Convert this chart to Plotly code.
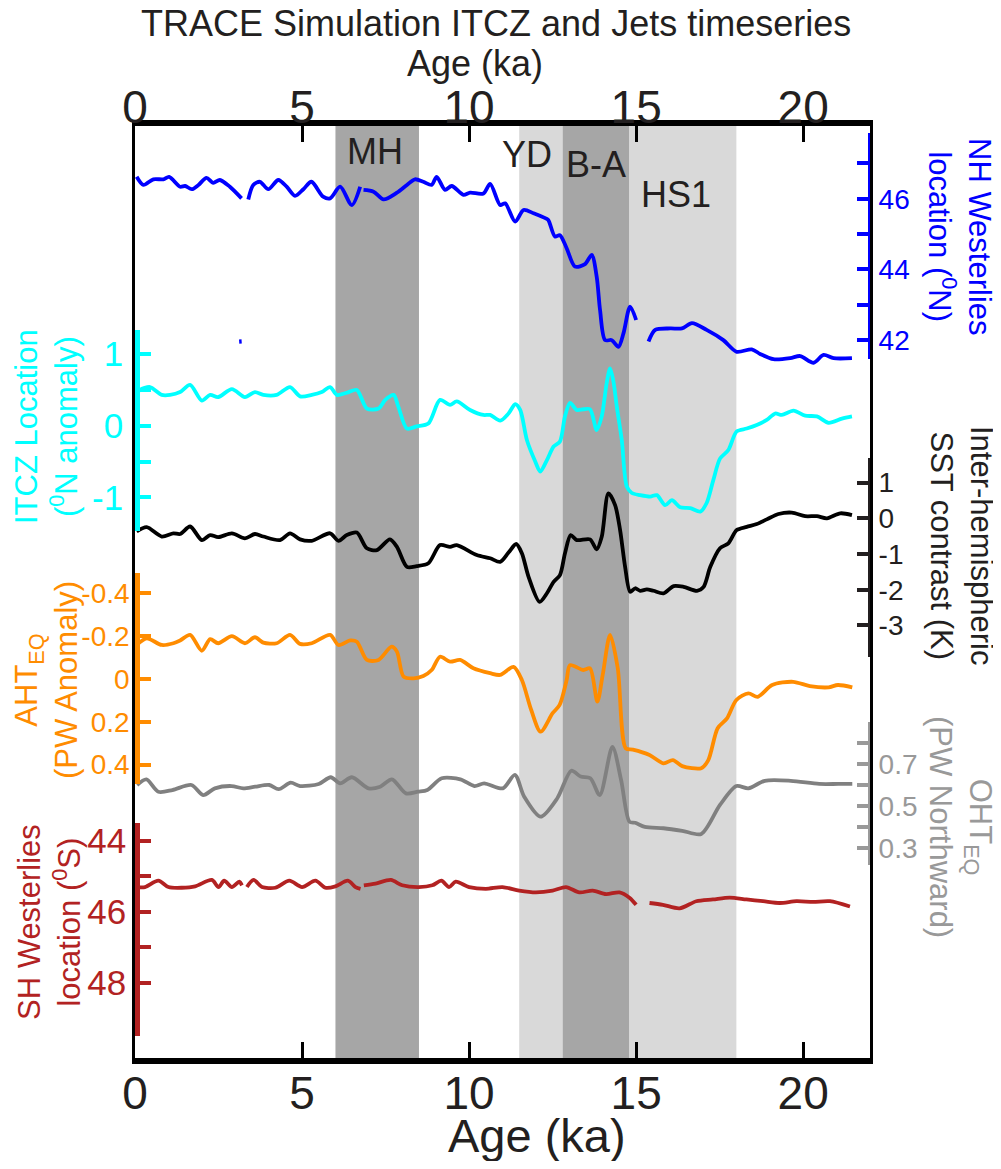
import plotly.graph_objects as go

# ---------------- data ----------------
age_ticks = [0, 5, 10, 15, 20]
period_names = ["MH", "YD", "B-A", "HS1"]
period_start = [6.0, 11.5, 12.8, 14.8]
period_end = [8.5, 12.8, 14.8, 18.0]
period_tone = ["dark", "light", "dark", "light"]

# NH westerlies location (deg N); None = gap in record
nh_age = [0.05, 0.25, 0.55, 0.85, 1.02, 1.35, 1.5, 1.7, 1.9, 2.14, 2.34, 2.54, 2.84, 3.19, None,
          3.39, 3.54, 3.74, 3.99, 4.29, 4.54, 4.79, 5.04, 5.28, 5.63, 5.84, 6.14, 6.49, 6.74, None,
          6.84, 7.14, 7.44, 7.84, 8.14, 8.38, 8.63, 8.88, 9.03, 9.28, 9.48, 9.83, 10.03, 10.43, 10.63,
          10.93, 11.08, 11.38, 11.63, 11.93, 12.28, 12.37, 12.57, 12.72, 12.92, 13.17, 13.47, 13.67,
          13.82, 13.92, 14.07, 14.27, 14.47, 14.62, 14.82, 15.0, None,
          15.37, 15.57, 16.02, 16.37, 16.67, 17.11, 17.61, 18.01, 18.46, 18.71, 19.11, 19.61, 19.91,
          20.31, 20.61, 20.91, 21.46]
nh_lat = [46.62, 46.39, 46.55, 46.55, 46.62, 46.34, 46.36, 46.27, 46.39, 46.59, 46.45, 46.53, 46.34, 46.01, None,
          45.98, 46.39, 46.48, 46.27, 46.53, 46.34, 46.08, 46.27, 46.48, 46.06, 46.01, 46.34, 45.82, 46.34, None,
          46.25, 46.20, 45.98, 46.17, 46.39, 46.55, 46.48, 46.39, 46.62, 46.25, 46.36, 46.11, 46.17, 46.15, 46.42,
          45.82, 45.87, 45.35, 45.68, 45.59, 45.45, 45.40, 44.93, 44.97, 44.60, 44.08, 44.15, 44.41,
          43.79, 42.85, 42.00, 42.00, 41.81, 42.19, 42.95, 42.57, None,
          41.96, 42.29, 42.33, 42.33, 42.48, 42.29, 42.00, 41.67, 41.74, 41.61, 41.46, 41.49, 41.55,
          41.36, 41.58, 41.49, 41.49]
nh_stray_age = [3.15, 3.16]
nh_stray_lat = [42.02, 41.9]

# ITCZ location (deg N anomaly)
itcz_age = [0.05, 0.15, 0.45, 0.8, 1.05, 1.35, 1.65, 2.0, 2.25, 2.49, 2.9, 3.29, 3.59, 3.84, 4.24, 4.64,
            4.94, 5.29, 5.59, 5.84, 6.04, 6.34, 6.64, 6.94, 7.29, 7.49, 7.74, 7.88, 8.14, 8.43, 8.78,
            9.13, 9.43, 9.63, 10.03, 10.43, 10.63, 10.93, 11.18, 11.38, 11.53, 11.73, 11.98, 12.13,
            12.33, 12.53, 12.72, 12.87, 13.02, 13.22, 13.42, 13.62, 13.82, 13.97, 14.12, 14.22, 14.32,
            14.42, 14.57, 14.72, 14.87, 15.12, 15.42, 15.62, 15.87, 16.07, 16.32, 16.62, 16.92, 17.11,
            17.31, 17.51, 17.76, 18.01, 18.31, 18.61, 18.91, 19.16, 19.36, 19.71, 20.06, 20.41, 20.76,
            21.16, 21.46]
itcz_lat = [0.45, 0.50, 0.54, 0.43, 0.43, 0.47, 0.57, 0.35, 0.43, 0.40, 0.51, 0.40, 0.47, 0.43, 0.43, 0.54,
            0.41, 0.43, 0.47, 0.54, 0.43, 0.46, 0.50, 0.24, 0.24, 0.36, 0.43, 0.27, -0.04, -0.01, 0.03,
            0.36, 0.29, 0.34, 0.22, 0.15, 0.15, 0.07, 0.17, 0.30, 0.22, -0.20, -0.50, -0.64,
            -0.48, -0.29, -0.22, 0.13, 0.32, 0.22, 0.23, 0.23, -0.06, 0.13, 0.60, 0.80, 0.62,
            0.27, -0.20, -0.85, -0.94, -0.97, -0.99, -0.97, -1.11, -1.04, -1.14, -1.15, -1.20, -1.08,
            -0.76, -0.46, -0.34, -0.08, -0.04, 0.01, 0.08, 0.17, 0.15, 0.21, 0.14, 0.13, 0.04,
            0.10, 0.13]

# Inter-hemispheric SST contrast (K)
sst_age = [0.05, 0.35, 0.8, 1.15, 1.35, 1.65, 2.0, 2.25, 2.49, 2.9, 3.29, 3.59, 3.84, 4.34, 4.64, 4.94,
           5.29, 5.84, 6.09, 6.34, 6.64, 6.94, 7.24, 7.63, 7.84, 8.14, 8.43, 8.78, 9.13, 9.43, 9.63,
           10.23, 10.63, 10.93, 11.18, 11.41, 11.58, 11.78, 12.11, 12.33, 12.53, 12.72, 12.87, 13.04,
           13.22, 13.62, 13.82, 13.97, 14.17, 14.37, 14.52, 14.67, 14.82, 14.97, 15.12, 15.32, 15.52,
           15.82, 16.12, 16.42, 16.82, 17.02, 17.22, 17.51, 17.76, 18.01, 18.31, 18.61, 18.91, 19.26,
           19.66, 20.06, 20.41, 20.71, 21.11, 21.46]
sst_k = [-0.37, -0.25, -0.51, -0.42, -0.44, -0.23, -0.61, -0.47, -0.53, -0.42, -0.56, -0.44, -0.51, -0.61, -0.42, -0.59,
         -0.63, -0.42, -0.63, -0.47, -0.40, -0.84, -0.89, -0.59, -0.80, -1.36, -1.34, -1.26, -0.75, -0.80, -0.75,
         -1.03, -1.12, -1.22, -0.96, -0.72, -0.98, -1.64, -2.34, -2.10, -1.78, -1.59, -0.98, -0.47,
         -0.61, -0.59, -0.87, -0.52, 0.70, 0.37, -0.33, -1.36, -2.06, -1.96, -2.03, -1.99, -2.03,
         -2.10, -1.90, -1.92, -2.03, -1.92, -1.36, -0.84, -0.70, -0.33, -0.24, -0.16, -0.03, 0.12,
         0.16, 0.06, 0.06, 0.00, 0.14, 0.09]

# Equatorial atmospheric heat transport (PW anomaly)
aht_age = [0.05, 0.35, 0.8, 1.15, 1.35, 1.65, 2.0, 2.25, 2.49, 2.9, 3.29, 3.59, 3.84, 4.24, 4.64, 4.94,
           5.29, 5.84, 6.09, 6.44, 6.64, 6.94, 7.29, 7.68, 7.84, 8.04, 8.34, 8.63, 8.88, 9.13, 9.43,
           9.73, 10.13, 10.63, 10.93, 11.33, 11.58, 11.86, 12.14, 12.5, 12.71, 12.92, 13.02, 13.42,
           13.62, 13.84, 14.0, 14.22, 14.45, 14.69, 14.9, 15.4, 15.82, 16.1, 16.38, 16.95, 17.16,
           17.44, 17.72, 18.0, 18.36, 18.64, 19.07, 19.7, 20.2, 20.76, 21.04, 21.47]
aht_pw = [-0.159, -0.19, -0.159, -0.167, -0.18, -0.206, -0.132, -0.186, -0.167, -0.20, -0.167, -0.195, -0.17, -0.167, -0.206, -0.164,
          -0.167, -0.206, -0.159, -0.18, -0.174, -0.089, -0.089, -0.151, -0.128, -0.011, -0.003, -0.014, -0.042, -0.104, -0.081,
          -0.089, -0.05, -0.027, -0.019, -0.057, 0.005, 0.145, 0.246, 0.16, 0.121, 0.005, -0.065, -0.042,
          -0.05, 0.106, -0.02, -0.206, -0.05, 0.324, 0.33, 0.355, 0.394, 0.379, 0.407, 0.417, 0.379,
          0.23, 0.184, 0.098, 0.067, 0.083, 0.028, 0.013, 0.033, 0.039, 0.028, 0.039]

# Equatorial ocean heat transport (PW northward)
oht_age = [0.06, 0.34, 0.7, 1.12, 1.69, 2.04, 2.39, 2.89, 3.24, 3.6, 4.02, 4.3, 4.66, 4.94, 5.5, 5.86,
           6.14, 6.49, 6.99, 7.34, 7.69, 8.11, 8.47, 8.75, 9.18, 9.74, 10.16, 10.45, 11.01, 11.37,
           11.65, 12.14, 12.64, 13.06, 13.34, 13.63, 13.91, 14.29, 14.55, 14.8, 14.97, 15.26, 15.82,
           16.38, 16.95, 17.51, 18.0, 18.36, 18.85, 19.63, 20.48, 21.05, 21.47]
oht_pw = [0.60, 0.627, 0.568, 0.576, 0.60, 0.552, 0.584, 0.595, 0.584, 0.592, 0.60, 0.58, 0.611, 0.595, 0.605, 0.637,
          0.608, 0.637, 0.584, 0.592, 0.627, 0.56, 0.568, 0.576, 0.632, 0.627, 0.595, 0.608, 0.584, 0.648,
          0.544, 0.449, 0.537, 0.668, 0.64, 0.632, 0.552, 0.782, 0.624, 0.425, 0.42, 0.401, 0.394,
          0.382, 0.367, 0.505, 0.595, 0.584, 0.62, 0.62, 0.605, 0.605, 0.605]

# SH westerlies location (deg S)
sh_age = [0.05, 0.3, 0.7, 1.0, 1.4, 1.8, 2.3, 2.5, 2.67, 2.9, 3.12, 3.2, None,
          3.35, 3.55, 3.8, 4.2, 4.62, 5.0, 5.4, 5.7, 6.0, 6.37, 6.6, 6.75, None,
          6.85, 7.2, 7.66, 8.0, 8.5, 8.9, 9.17, 9.4, 9.6, 10.0, 10.5, 11.0, 11.5, 12.0, 12.5, 12.9,
          13.3, 13.7, 14.1, 14.5, 14.8, 15.0, None,
          15.4, 15.8, 16.3, 16.8, 17.3, 17.8, 18.3, 18.8, 19.3, 19.8, 20.3, 20.8, 21.4]
sh_lat = [45.3, 45.3, 45.12, 45.3, 45.32, 45.28, 45.1, 45.3, 45.12, 45.3, 45.15, 45.25, None,
          45.3, 45.1, 45.3, 45.32, 45.12, 45.3, 45.12, 45.32, 45.28, 45.12, 45.3, 45.35, None,
          45.25, 45.2, 45.1, 45.25, 45.3, 45.25, 45.12, 45.3, 45.15, 45.3, 45.35, 45.3, 45.4, 45.45, 45.4, 45.3,
          45.45, 45.4, 45.5, 45.45, 45.6, 45.8, None,
          45.75, 45.8, 45.9, 45.7, 45.65, 45.6, 45.65, 45.7, 45.75, 45.7, 45.72, 45.7, 45.85]

nh_ticks = [42, 43, 44, 45, 46, 47]
nh_ticklabels = ["42", " ", "44", " ", "46", " "]
itcz_ticks = [-1, -0.5, 0, 0.5, 1]
itcz_ticklabels = ["-1", " ", "0", " ", "1"]
sst_ticks = [-3, -2, -1, 0, 1]
sst_ticklabels = ["-3", "-2", "-1", "0", "1"]
aht_ticks = [-0.4, -0.2, 0, 0.2, 0.4]
aht_ticklabels = ["-0.4", "-0.2", "0", "0.2", "0.4"]
oht_ticks = [0.3, 0.4, 0.5, 0.6, 0.7, 0.8]
oht_ticklabels = ["0.3", " ", "0.5", " ", "0.7", " "]
sh_ticks = [44, 45, 46, 47, 48]
sh_ticklabels = ["44", " ", "46", " ", "48"]

# ---------------- layout geometry (page pixels) ----------------
FONT = "Liberation Sans, Arial, Helvetica, sans-serif"
PAGE_W, PAGE_H = 1001, 1169
OFF = 8                      # default body margin of the html page
PL, PR, PT, PB = 135, 870, 126, 1058
PW, PH = PR - PL, PB - PT
FIG_W, FIG_H = PAGE_W - 2 * OFF, PAGE_H - 2 * OFF


def fy(Y):
    return (PB - Y) / PH


def fx(X):
    return (X - PL) / PW


def lin(v1, y1, v2, y2):
    s = (v2 - v1) / (y2 - y1)
    return lambda Y: v1 + (Y - y1) * s


series = [
    dict(x=nh_age, y=nh_lat, color="#0000ff", side="right", cal=(44, 269.43, 46, 198.73), seg=(133, 359),
         tv=nh_ticks, tt=nh_ticklabels, tfs=28, so=0),
    dict(x=itcz_age, y=itcz_lat, color="#00ffff", side="left", cal=(0, 425.7, 1, 354.1), seg=(330, 531),
         tv=itcz_ticks, tt=itcz_ticklabels, tfs=35, so=5),
    dict(x=sst_age, y=sst_k, color="#000000", side="right", cal=(0, 518.3, 1, 482.6), seg=(458, 657),
         tv=sst_ticks, tt=sst_ticklabels, tfs=28, axcolor="#231f20", so=0),
    dict(x=aht_age, y=aht_pw, color="#ff8c00", side="left", cal=(0, 679, 0.4, 764.6), seg=(573, 784),
         tv=aht_ticks, tt=aht_ticklabels, tfs=28, so=0),
    dict(x=oht_age, y=oht_pw, color="#808080", side="right", cal=(0.5, 806, 0.7, 764), seg=(721.7, 865),
         tv=oht_ticks, tt=oht_ticklabels, tfs=28, axcolor="#999999", so=0),
    dict(x=sh_age, y=sh_lat, color="#b22222", side="left", cal=(44, 841, 48, 982.7), seg=(823.3, 1036),
         tv=sh_ticks, tt=sh_ticklabels, tfs=35, so=2),
]

fig = go.Figure()
layout = dict(
    width=FIG_W, height=FIG_H,
    margin=dict(l=PL - OFF, r=PAGE_W - OFF - PR, t=PT - OFF, b=PAGE_H - OFF - PB, pad=0),
    paper_bgcolor="white", plot_bgcolor="rgba(0,0,0,0)", showlegend=False,
    font=dict(family=FONT, color="#231f20"),
)

xcommon = dict(range=[0, 22], showline=True, linewidth=6, linecolor="black", ticks="inside", ticklen=16,
               tickwidth=2.5, tickcolor="black", tickvals=age_ticks, tickfont=dict(size=46, color="#231f20"),
               showgrid=False, zeroline=False)
layout["xaxis"] = dict(domain=[0, 1], anchor="y", side="bottom", ticklabelstandoff=-10, **xcommon)
layout["xaxis2"] = dict(overlaying="x", anchor="y", side="top", ticklabelstandoff=-21, **xcommon)
layout["yaxis"] = dict(domain=[0, 1], range=[0, 1], showline=True, linewidth=2.5, linecolor="black",
                       mirror=True, ticks="", showticklabels=False, showgrid=False, zeroline=False)

fig.add_trace(go.Scatter(x=[None], y=[None], xaxis="x2", yaxis="y", hoverinfo="skip"))

n = len(series)
for i, s in enumerate(series):
    f = lin(*s["cal"])
    ytop, ybot = s["seg"]
    data_ax = i + 2
    disp_ax = i + 2 + n
    axc = s.get("axcolor", s["color"])
    layout[f"yaxis{data_ax}"] = dict(overlaying="y", anchor="x", range=[f(PB), f(PT)], visible=False,
                                     showgrid=False, zeroline=False)
    layout[f"yaxis{disp_ax}"] = dict(
        anchor="free", position=(0.003 if s["side"] == "left" else 1.0), side=s["side"],
        domain=[fy(ybot), fy(ytop)], range=[f(ybot), f(ytop)],
        showline=True, linecolor=axc, linewidth=5, ticks="inside", ticklen=11, tickwidth=4, tickcolor=axc,
        tickvals=s["tv"], ticktext=s["tt"], tickfont=dict(size=s["tfs"], color=axc),
        ticklabelstandoff=s["so"], showgrid=False, zeroline=False)
    fig.add_trace(go.Scatter(x=s["x"], y=s["y"], xaxis="x", yaxis=f"y{data_ax}", mode="lines",
                             line=dict(color=s["color"], width=3.8, shape="spline", smoothing=0.8),
                             connectgaps=False, hoverinfo="skip"))
    fig.add_trace(go.Scatter(x=[None], y=[None], xaxis="x", yaxis=f"y{disp_ax}", hoverinfo="skip"))
    if i == 0:
        fig.add_trace(go.Scatter(x=nh_stray_age, y=nh_stray_lat, xaxis="x", yaxis=f"y{data_ax}", mode="lines",
                                 line=dict(color=s["color"], width=2.5), hoverinfo="skip"))

shades = {"dark": "#a6a6a6", "light": "#d9d9d9"}
layout["shapes"] = [dict(type="rect", xref="x", yref="paper", x0=a, x1=b, y0=0, y1=1,
                         fillcolor=shades[t], line=dict(width=0), layer="below")
                    for a, b, t in zip(period_start, period_end, period_tone)]

label_pos = [(374.7, 151), (527.2, 154), (596.3, 164), (675.8, 194)]
ann = []
for name, (X, Y) in zip(period_names, label_pos):
    ann.append(dict(text=name, xref="paper", yref="paper", x=fx(X), y=fy(Y), showarrow=False,
                    xanchor="center", yanchor="middle", font=dict(size=36, color="#231f20")))

ann.append(dict(text="TRACE Simulation ITCZ and Jets timeseries", xref="paper", yref="paper",
                x=fx(496), y=fy(23), showarrow=False, xanchor="center", yanchor="middle",
                font=dict(size=36, color="#231f20")))
ann.append(dict(text="Age (ka)", xref="paper", yref="paper", x=fx(475), y=fy(63), showarrow=False,
                xanchor="center", yanchor="middle", font=dict(size=36, color="#231f20")))
ann.append(dict(text="Age (ka)", xref="paper", yref="paper", x=fx(537), y=fy(1135), showarrow=False,
                xanchor="center", yanchor="middle", font=dict(size=47, color="#231f20")))

titles = [
    ("NH Westerlies<br>location (<sup>0</sup>N)", 960, 237, 90, "#0000ff"),
    ("Inter-hemispheric<br>SST contrast (K)", 962, 545, 90, "#231f20"),
    ("OHT<sub>EQ</sub><br>(PW Northward)", 960, 827, 90, "#999999"),
    ("ITCZ Location<br>(<sup>0</sup>N anomaly)", 46, 427, -90, "#00ffff"),
    ("AHT<sub>EQ</sub><br>(PW Anomaly)", 46, 680, -90, "#ff8c00"),
    ("SH Westerlies<br>location (<sup>0</sup>S)", 50, 922, -90, "#b22222"),
]
for txt, X, Y, ang, col in titles:
    ann.append(dict(text=txt, xref="paper", yref="paper", x=fx(X), y=fy(Y), showarrow=False, textangle=ang,
                    xanchor="center", yanchor="middle", font=dict(size=31, color=col)))
layout["annotations"] = ann

fig.update_layout(**layout)
fig.write_html("out.html")
